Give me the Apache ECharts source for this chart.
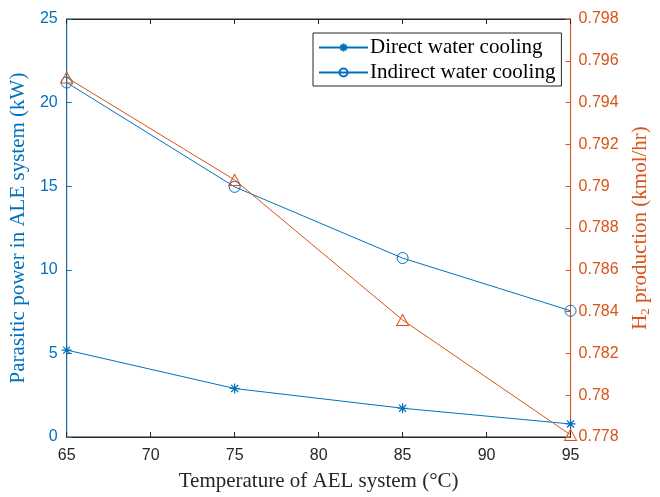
<!DOCTYPE html>
<html>
<head>
<meta charset="utf-8">
<script src="https://cdn.jsdelivr.net/npm/echarts@6/dist/echarts.min.js"></script>
<style>
  html, body { margin: 0; padding: 0; background: #fff; }
  #chart { width: 660px; height: 497px; }
</style>
</head>
<body>
<div id="chart"></div>
<script>
// Operating temperature of the AEL system (°C)
const temperatures = [65, 75, 85, 95];
// Parasitic power (kW) for each cooling strategy
const directCooling = [5.2, 2.9, 1.72, 0.78];
const indirectCooling = [21.2, 14.96, 10.7, 7.55];
// Hydrogen production (kmol/hr)
const h2Production = [0.7952, 0.7903, 0.7836, 0.7781];

const xTicks = [65, 70, 75, 80, 85, 90, 95];
const leftTicks = [0, 5, 10, 15, 20, 25];

const BLUE = '#0072BD';
const ORANGE = '#D95319';
const AXIS = '#262626';
const SERIF = '"Liberation Serif", "Times New Roman", serif';
const SANS = '"Liberation Sans", Arial, sans-serif';

// MATLAB-style asterisk: plus sign overlaid with a cross
const asterisk = 'path://M10,0L10,20M0,10L20,10M3,3L17,17M3,17L17,3';
const pairs = ys => temperatures.map((t, i) => [t, ys[i]]);

const chart = echarts.init(document.getElementById('chart'), null, { renderer: 'canvas' });

chart.setOption({
  animation: false,
  backgroundColor: '#fff',
  grid: {
    left: 63, right: 82, top: 19, bottom: 53,
    show: true, borderColor: AXIS, borderWidth: 1, backgroundColor: 'transparent'
  },
  legend: {
    data: ['Direct water cooling', 'Indirect water cooling'],
    orient: 'vertical',
    left: 313, top: 33,
    padding: [4, 6, 3, 5],
    itemGap: 4,
    itemWidth: 49, itemHeight: 10,
    backgroundColor: '#fff',
    borderColor: AXIS, borderWidth: 1,
    textStyle: { fontFamily: SERIF, fontSize: 21, color: '#000', padding: [0, 0, 0, -3] }
  },
  xAxis: [{
    type: 'value', min: 65, max: 95, interval: 5,
    name: 'Temperature of AEL system (°C)',
    nameLocation: 'middle', nameGap: 34,
    nameTextStyle: { fontFamily: SERIF, fontSize: 21, color: AXIS },
    axisLine: { show: true, lineStyle: { color: AXIS, width: 1 } },
    axisTick: { show: true, inside: true, length: 5, lineStyle: { color: AXIS } },
    axisLabel: {
      fontFamily: SANS, fontSize: 16, color: AXIS, margin: 11,
      formatter: v => xTicks.includes(v) ? String(v) : ''
    },
    splitLine: { show: false }
  }, {
    type: 'value', min: 65, max: 95, interval: 5, position: 'top',
    axisLine: { show: true, lineStyle: { color: AXIS, width: 1 } },
    axisTick: { show: true, inside: true, length: 5, lineStyle: { color: AXIS } },
    axisLabel: { show: false },
    splitLine: { show: false }
  }],
  yAxis: [{
    type: 'value', min: 0, max: 25, interval: 5, position: 'left',
    name: 'Parasitic power in ALE system (kW)',
    nameLocation: 'middle', nameGap: 30,
    nameTextStyle: { fontFamily: SERIF, fontSize: 21, color: BLUE },
    axisLine: { show: true, lineStyle: { color: BLUE, width: 1 } },
    axisTick: { show: true, inside: true, length: 5, lineStyle: { color: BLUE } },
    axisLabel: {
      fontFamily: SANS, fontSize: 16, color: BLUE, margin: 9,
      formatter: v => leftTicks.includes(v) ? String(v) : ''
    },
    splitLine: { show: false }
  }, {
    type: 'value', min: 0.778, max: 0.798, interval: 0.002, position: 'right',
    name: '{a|H}{s|2}{a| production (kmol/hr)}',
    nameLocation: 'middle', nameGap: 57, nameRotate: 90,
    nameTextStyle: {
      color: ORANGE,
      rich: {
        a: { fontFamily: SERIF, fontSize: 21, color: ORANGE },
        s: { fontFamily: SERIF, fontSize: 13, color: ORANGE, verticalAlign: 'bottom', padding: [11, 0, 0, 0] }
      }
    },
    axisLine: { show: true, lineStyle: { color: ORANGE, width: 1 } },
    axisTick: { show: true, inside: true, length: 5, lineStyle: { color: ORANGE } },
    axisLabel: {
      fontFamily: SANS, fontSize: 16, color: ORANGE, margin: 8,
      formatter: v => String(parseFloat(v.toFixed(3)))
    },
    splitLine: { show: false }
  }],
  series: [{
    name: 'Direct water cooling',
    type: 'line', xAxisIndex: 0, yAxisIndex: 0,
    data: pairs(directCooling),
    symbol: asterisk, symbolSize: 10,
    lineStyle: { color: BLUE, width: 1 },
    itemStyle: { color: 'none', borderColor: BLUE, borderWidth: 1.2 }
  }, {
    name: 'Indirect water cooling',
    type: 'line', xAxisIndex: 0, yAxisIndex: 0,
    data: pairs(indirectCooling),
    symbol: 'circle', symbolSize: 11,
    lineStyle: { color: BLUE, width: 1 },
    itemStyle: { color: 'none', borderColor: BLUE, borderWidth: 1 }
  }, {
    name: 'H2 production',
    type: 'line', xAxisIndex: 0, yAxisIndex: 1,
    data: pairs(h2Production),
    symbol: 'triangle', symbolSize: [12, 11],
    lineStyle: { color: ORANGE, width: 1 },
    itemStyle: { color: 'none', borderColor: ORANGE, borderWidth: 1 }
  }]
});
</script>
</body>
</html>
